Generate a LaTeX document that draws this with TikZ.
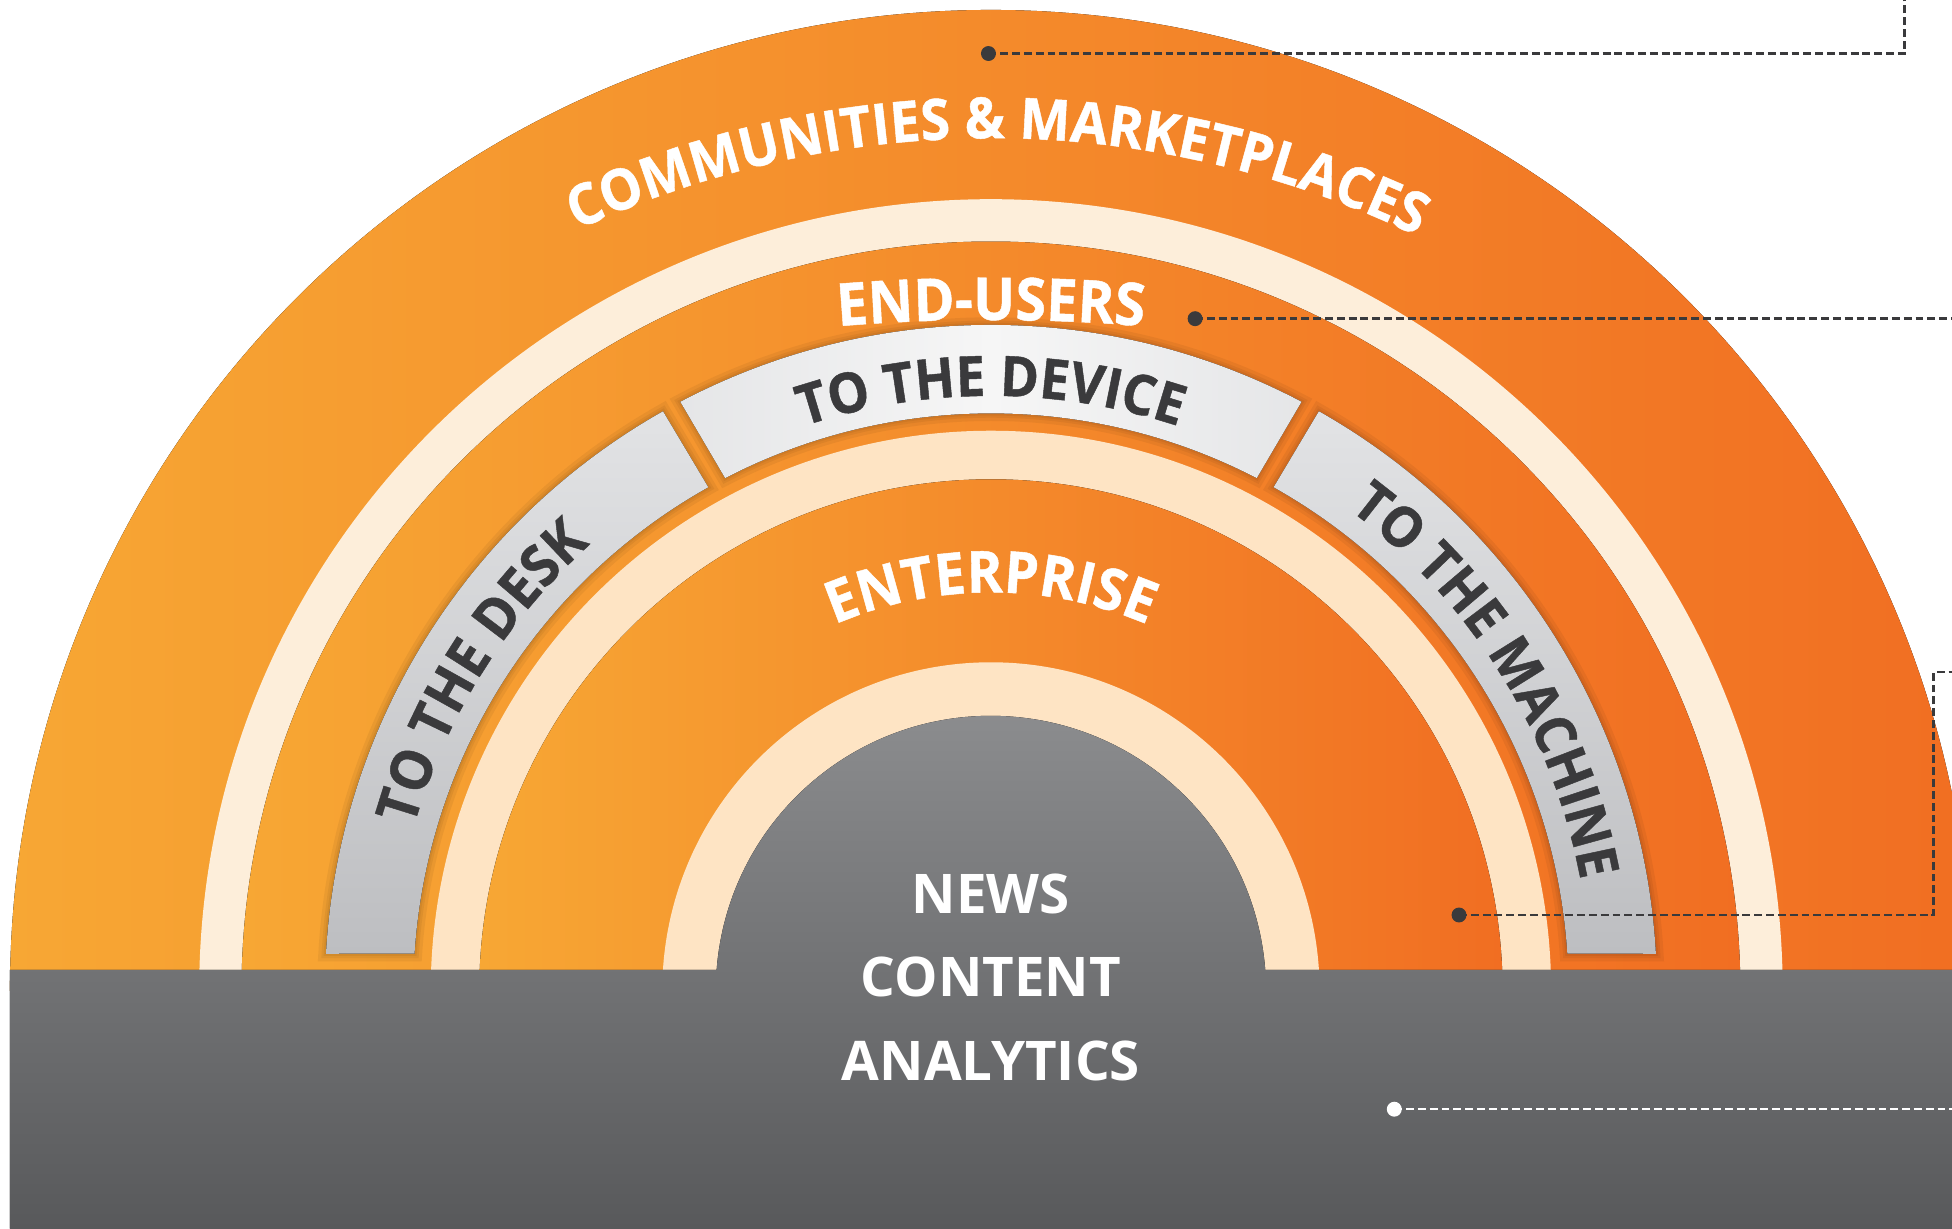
\documentclass[tikz,border=0pt]{standalone}
\usepackage{fontspec}
\setmainfont{Open Sans}
\newfontfamily\lblfont{Open Sans}[FakeStretch=0.94, FakeBold=0.8]
\usetikzlibrary{decorations.text}
\definecolor{orL}{RGB}{247,167,52}
\definecolor{orR}{RGB}{241,110,34}
\definecolor{creamA}{RGB}{253,238,218}
\definecolor{creamB}{RGB}{254,228,196}
\definecolor{grayT}{RGB}{140,141,143}
\definecolor{grayB}{RGB}{88,89,91}
\definecolor{segTop}{RGB}{226,227,229}
\definecolor{segBot}{RGB}{189,190,193}
\definecolor{segMid}{RGB}{246,246,246}
\definecolor{inkdark}{RGB}{58,58,60}
\newcommand{\lblsize}[1]{\lblfont\bfseries\fontsize{#1}{#1}\selectfont}
\begin{document}
\begin{tikzpicture}[x=0.02cm,y=0.02cm,
  orangefill/.style={left color=orL, right color=orR},
  leader/.style={draw=inkdark, line width=1.15pt, dash pattern=on 3.6pt off 1.8pt},
  wleader/.style={draw=white, line width=1.15pt, dash pattern=on 3.6pt off 1.8pt},
  dotstyle/.style={circle, fill=inkdark, inner sep=0pt, minimum size=0.24cm},
  wdotstyle/.style={circle, fill=white, inner sep=0pt, minimum size=0.24cm},
  coretext/.style={text=white, anchor=base, font=\bfseries\fontsize{25}{25}\selectfont}]
\useasboundingbox (-796,-191) rectangle (772,796);
\fill[white] (-796,-191) rectangle (772,796);
\begin{scope}
\clip (-796,-191) rectangle (772,796);
% rings
\fill[orangefill] (-788,0) arc[start angle=180,end angle=0,radius=788] -- cycle;
\fill[creamA] (-636,0) arc[start angle=180,end angle=0,radius=636] -- cycle;
\fill[orangefill] (-602,0) arc[start angle=180,end angle=0,radius=602] -- cycle;
% segments: soft shadows
\foreach \w in {7,4,2}{
  \draw[draw=black, draw opacity=0.05, line width=\w pt]
    (176.8:535) arc[start angle=176.8,end angle=119.5,radius=535] -- (119.3:464) arc[start angle=119.3,end angle=176.3,radius=464] -- cycle;
  \draw[draw=black, draw opacity=0.05, line width=\w pt]
    (117.8:535) arc[start angle=117.8,end angle=62.2,radius=535] -- (62.6:464) arc[start angle=62.6,end angle=117.4,radius=464] -- cycle;
  \draw[draw=black, draw opacity=0.05, line width=\w pt]
    (60.5:535) arc[start angle=60.5,end angle=3.2,radius=535] -- (3.7:464) arc[start angle=3.7,end angle=60.7,radius=464] -- cycle;
}
% segments
\fill[top color=segTop, bottom color=segBot]
  (176.8:535) arc[start angle=176.8,end angle=119.5,radius=535] -- (119.3:464) arc[start angle=119.3,end angle=176.3,radius=464] -- cycle;
\fill[left color=segTop!90!white, right color=segTop!90!white, middle color=segMid]
  (117.8:535) arc[start angle=117.8,end angle=62.2,radius=535] -- (62.6:464) arc[start angle=62.6,end angle=117.4,radius=464] -- cycle;
\fill[top color=segTop, bottom color=segBot]
  (60.5:535) arc[start angle=60.5,end angle=3.2,radius=535] -- (3.7:464) arc[start angle=3.7,end angle=60.7,radius=464] -- cycle;
% inner rings
\fill[creamB] (-450,0) arc[start angle=180,end angle=0,radius=450] -- cycle;
\fill[orangefill] (-411,0) arc[start angle=180,end angle=0,radius=411] -- cycle;
\fill[creamB] (-264,0) arc[start angle=180,end angle=0,radius=264] -- cycle;
% grey core and band (one outline)
\fill[top color=grayT, bottom color=grayB]
  (-788,-191) -- (-788,17) -- (175.59:221) arc[start angle=175.59,end angle=4.41,radius=221]
  -- (772,17) -- (772,-191) -- cycle;
\end{scope}
% curved labels
\path[shift={(0,-100)}, decorate, decoration={text along path, text align=center, text color=white,
  text={|\lblsize{26}|COMMUNITIES {\&} MARKETPLACES}}]
  (139.6:785) arc[start angle=139.6,end angle=39.6,radius=785];
\path[shift={(0,-961)}, decorate, decoration={text along path, text align=center, text color=white,
  text={|\lblsize{27}|END-USERS}}]
  (100:1500) arc[start angle=100,end angle=80,radius=1500];
\path[decorate, decoration={text along path, text align=center, text color=inkdark,
  text={|\lblsize{26}|TO THE DESK}}]
  (176:482) arc[start angle=176,end angle=120,radius=482];
\path[decorate, decoration={text along path, text align=center, text color=inkdark,
  text={|\lblsize{25.5}|TO THE DEVICE}}]
  (117:478) arc[start angle=117,end angle=63,radius=478];
\path[decorate, decoration={text along path, text align=center, text color=inkdark,
  text={|\lblsize{25.5}|TO THE MACHINE}}]
  (60:482) arc[start angle=60,end angle=4,radius=482];
\path[decorate, decoration={text along path, text align=center, text color=white,
  text={|\lblsize{26.5}|ENTERPRISE}}]
  (150:320) arc[start angle=150,end angle=30,radius=320];
% core text
\node[coretext] (news) at (0,62) {NEWS};
\node[coretext] (content) at (0,-4.6) {CONTENT};
\node[coretext] (analytics) at (0,-71.6) {ANALYTICS};
% leaders
\node[dotstyle] (p1) at (-2,753) {};
\coordinate (p1a) at (734,753);
\coordinate (p1b) at (734,796);
\draw[leader] (p1.center) -- (p1a) -- (p1b);
\node[dotstyle] (p2) at (164,540) {};
\coordinate (p2a) at (772,540);
\draw[leader] (p2.center) -- (p2a);
\node[dotstyle] (p3) at (376,61) {};
\coordinate (p3a) at (757,61);
\coordinate (p3b) at (757,256);
\coordinate (p3c) at (772,256);
\draw[leader] (p3.center) -- (p3a) -- (p3b) -- (p3c);
\node[wdotstyle] (p4) at (324,-95) {};
\coordinate (p4a) at (772,-95);
\draw[wleader] (p4.center) -- (p4a);
\end{tikzpicture}
\end{document}
